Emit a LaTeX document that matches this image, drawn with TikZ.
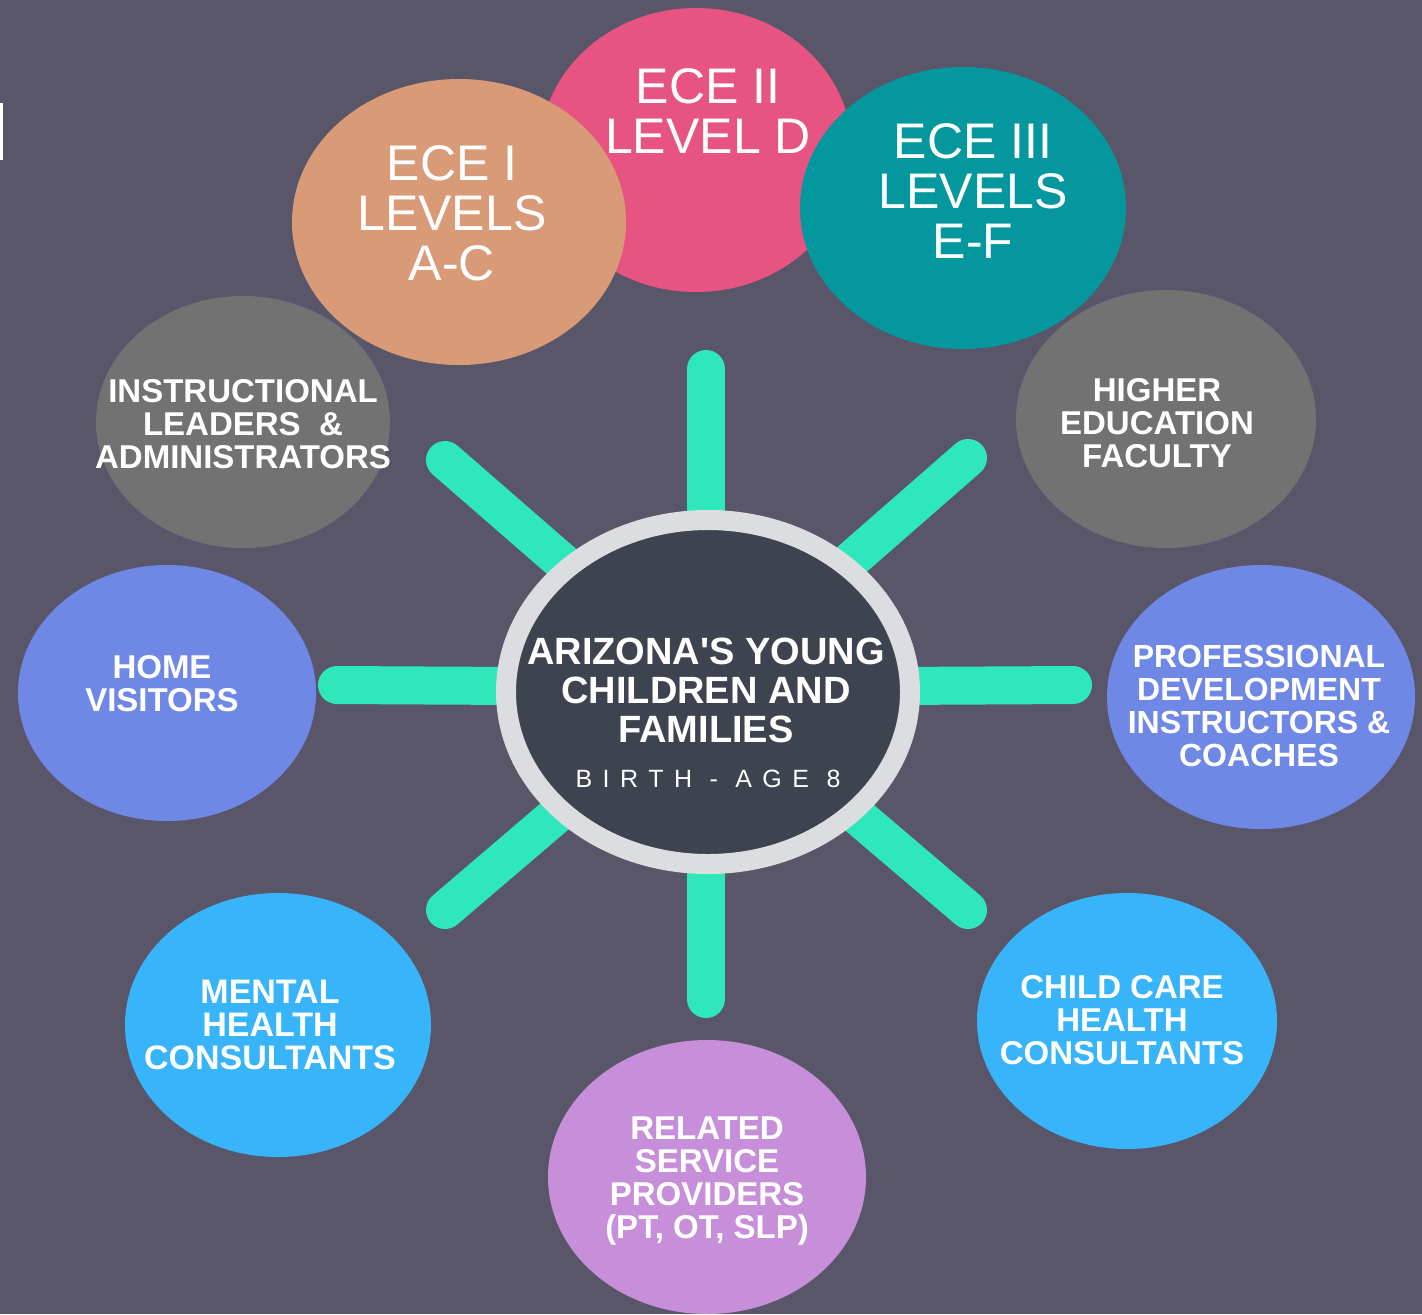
\documentclass[tikz,border=0pt]{standalone}
\usepackage{fontspec}
\setmainfont{Liberation Sans}[Ligatures=TeXOff]
\usetikzlibrary{shapes.geometric}

\definecolor{bgcol}{HTML}{5A5669}
\definecolor{spokecol}{HTML}{2EE7BD}
\definecolor{ringcol}{HTML}{DCDDE0}
\definecolor{hubcol}{HTML}{3E4350}
\definecolor{ecepeach}{HTML}{D99A78}
\definecolor{ecepink}{HTML}{E85482}
\definecolor{eceteal}{HTML}{04979D}
\definecolor{roleGray}{HTML}{727272}
\definecolor{rolePeri}{HTML}{6F88E6}
\definecolor{roleSky}{HTML}{38B5FA}
\definecolor{roleLilac}{HTML}{C78FD9}

\begin{document}
\begin{tikzpicture}[
    x=0.5pt, y=-0.5pt,
    bubble/.style={ellipse, inner sep=0pt, draw=none},
    spoke/.style={draw=spokecol, line width=19pt, line cap=round},
    roletext/.style={text=white, inner sep=0pt, align=center, font=\bfseries\fontsize{16.5}{16.5}\selectfont},
    ecetext/.style={text=white, inner sep=0pt, align=center, font=\fontsize{25}{25}\selectfont}
]
    % Background
    \fill[bgcol] (0,0) rectangle (1422,1314);
    \useasboundingbox (0,0) rectangle (1422,1314);
    \fill[white] (0,103) rectangle (3,160);

    % Spokes
    \coordinate (c) at (706,687);
    \coordinate (sN) at (706,369);
    \coordinate (sS) at (706,999);
    \coordinate (sW) at (337,685);
    \coordinate (sE) at (1073,685);
    \coordinate (sNW) at (445,460);
    \coordinate (sNE) at (968,458);
    \coordinate (sSW) at (445,910);
    \coordinate (sSE) at (968,910);
    \foreach \s in {sN,sS,sW,sE,sNW,sNE,sSW,sSE}
        \draw[spoke] (c) -- (\s);

    % Hub
    \node[bubble, fill=hubcol, draw=ringcol, line width=10pt,
          minimum width=202pt, minimum height=172pt] (hub) at (708,692) {};
    \node[roletext, font=\bfseries\fontsize{19}{19.5}\selectfont] (hubtext) at (706,690)
        {ARIZONA'S YOUNG\\CHILDREN AND\\FAMILIES};
    \node[text=white, inner sep=0pt, anchor=base,
          font=\fontsize{12.5}{14}\selectfont\addfontfeature{LetterSpace=42}] (age) at (708,787)
        {BIRTH - AGE 8};

    % ECE levels
    \node[bubble, fill=ecepink, minimum width=156pt, minimum height=142pt] (ece2) at (696,150) {};
    \node[bubble, fill=ecepeach, minimum width=167pt, minimum height=143pt] (ece1) at (459,222) {};
    \node[bubble, fill=eceteal, minimum width=163pt, minimum height=141pt] (ece3) at (963,208) {};
    \node[ecetext] (ece2text) at (708,111) {ECE II\\LEVEL D};
    \node[ecetext] (ece1text) at (452,213) {ECE I\\LEVELS\\A-C};
    \node[ecetext] (ece3text) at (973,191) {ECE III\\LEVELS\\E-F};

    % Workforce roles
    \node[bubble, fill=roleGray, minimum width=147pt, minimum height=126pt] (lead) at (243,422) {};
    \node[bubble, fill=roleGray, minimum width=150pt, minimum height=129pt] (higher) at (1166,419) {};
    \node[bubble, fill=rolePeri, minimum width=149pt, minimum height=128pt] (home) at (167,693) {};
    \node[bubble, fill=rolePeri, minimum width=154pt, minimum height=132pt] (pd) at (1261,697) {};
    \node[bubble, fill=roleSky, minimum width=153pt, minimum height=132pt] (mental) at (278,1025) {};
    \node[bubble, fill=roleSky, minimum width=150pt, minimum height=128pt] (childcare) at (1127,1021) {};
    \node[bubble, fill=roleLilac, minimum width=159pt, minimum height=137pt] (related) at (707,1177) {};

    \node[roletext] (leadtext) at (243,424) {INSTRUCTIONAL\\LEADERS \ \&\\ADMINISTRATORS};
    \node[roletext] (highertext) at (1157,423) {HIGHER\\EDUCATION\\FACULTY};
    \node[roletext] (hometext) at (162,684) {HOME\\VISITORS};
    \node[roletext, font=\bfseries\fontsize{16}{16.5}\selectfont] (pdtext) at (1259,706)
        {PROFESSIONAL\\DEVELOPMENT\\INSTRUCTORS \&\\COACHES};
    \node[roletext, font=\bfseries\fontsize{17}{16.5}\selectfont] (mentaltext) at (270,1025) {MENTAL\\HEALTH\\CONSULTANTS};
    \node[roletext] (childcaretext) at (1122,1020) {CHILD CARE\\HEALTH\\CONSULTANTS};
    \node[roletext] (relatedtext) at (707,1181) {RELATED\\SERVICE\\PROVIDERS\\(PT, OT, SLP)};
\end{tikzpicture}
\end{document}
